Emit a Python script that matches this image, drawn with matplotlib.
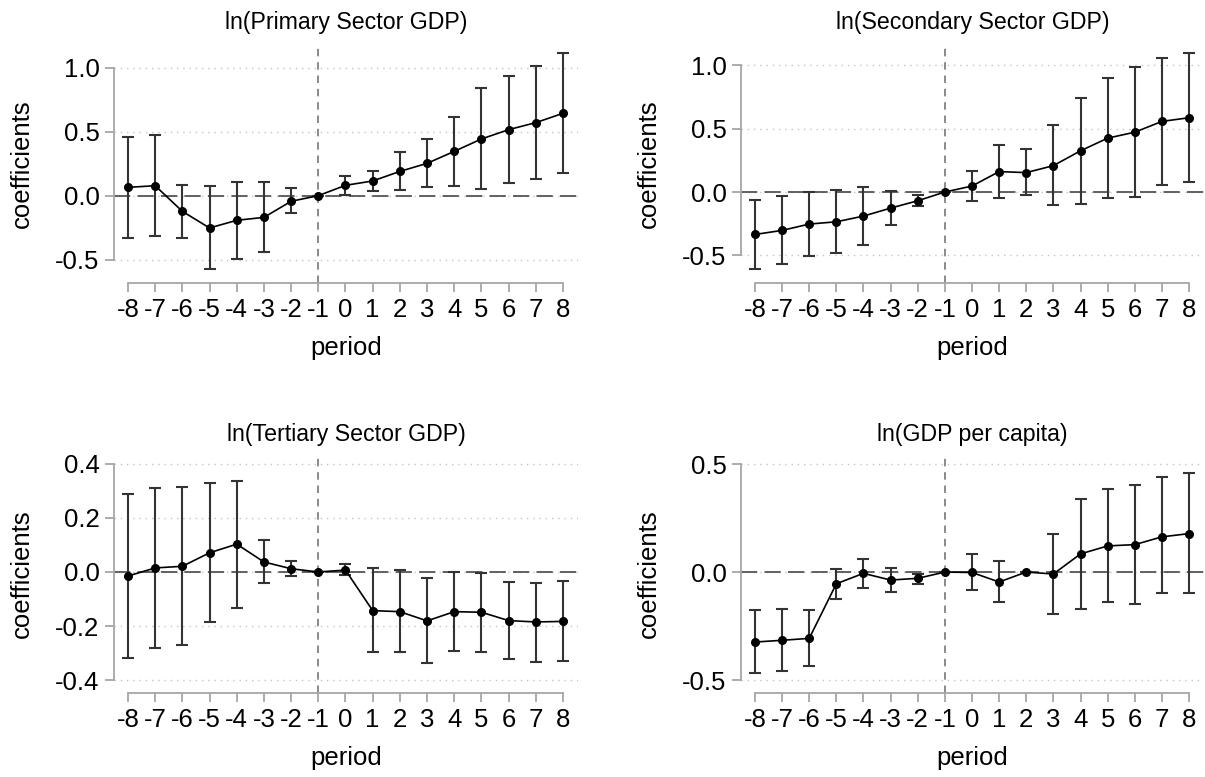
import matplotlib
matplotlib.use("Agg")
import matplotlib.pyplot as plt
import numpy as np

plt.rcParams['font.family'] = ['Liberation Sans', 'DejaVu Sans']
plt.rcParams['axes.unicode_minus'] = False

periods = [-8, -7, -6, -5, -4, -3, -2, -1, 0, 1, 2, 3, 4, 5, 6, 7, 8]

titles = ["ln(Primary Sector GDP)", "ln(Secondary Sector GDP)",
          "ln(Tertiary Sector GDP)", "ln(GDP per capita)"]

# Panel 1: ln(Primary Sector GDP)
coef_primary = [0.065, 0.078, -0.123, -0.253, -0.193, -0.170, -0.044, 0.0, 0.081, 0.115, 0.190, 0.253, 0.347, 0.444, 0.517, 0.572, 0.645]
upper_primary = [0.460, 0.475, 0.086, 0.073, 0.104, 0.110, 0.057, 0.0, 0.157, 0.196, 0.340, 0.444, 0.619, 0.840, 0.935, 1.013, 1.115]
lower_primary = [-0.330, -0.313, -0.330, -0.577, -0.493, -0.444, -0.138, 0.0, 0.005, 0.037, 0.044, 0.068, 0.078, 0.052, 0.097, 0.128, 0.178]

# Panel 2: ln(Secondary Sector GDP)
coef_secondary = [-0.335, -0.303, -0.253, -0.235, -0.190, -0.127, -0.069, 0.0, 0.047, 0.161, 0.153, 0.208, 0.325, 0.425, 0.472, 0.557, 0.586]
upper_secondary = [-0.061, -0.034, 0.000, 0.013, 0.042, 0.010, -0.024, 0.0, 0.166, 0.372, 0.338, 0.525, 0.744, 0.897, 0.987, 1.055, 1.095]
lower_secondary = [-0.610, -0.570, -0.507, -0.483, -0.417, -0.264, -0.111, 0.0, -0.069, -0.047, -0.026, -0.106, -0.095, -0.045, -0.040, 0.055, 0.077]

# Panel 3: ln(Tertiary Sector GDP)
coef_tertiary = [-0.015, 0.015, 0.021, 0.071, 0.103, 0.037, 0.012, 0.0, 0.007, -0.143, -0.147, -0.181, -0.147, -0.149, -0.180, -0.185, -0.183]
upper_tertiary = [0.287, 0.312, 0.316, 0.328, 0.338, 0.117, 0.041, 0.0, 0.030, 0.014, 0.007, -0.021, 0.000, -0.002, -0.036, -0.039, -0.035]
lower_tertiary = [-0.317, -0.282, -0.272, -0.185, -0.133, -0.042, -0.015, 0.0, -0.012, -0.298, -0.298, -0.338, -0.292, -0.296, -0.323, -0.332, -0.329]

# Panel 4: ln(GDP per capita)
coef_gdppc = [-0.324, -0.316, -0.307, -0.054, -0.006, -0.037, -0.029, 0.0, -0.002, -0.046, 0.000, -0.009, 0.084, 0.121, 0.127, 0.163, 0.178]
upper_gdppc = [-0.178, -0.173, -0.176, 0.015, 0.062, 0.020, -0.008, 0.0, 0.082, 0.050, 0.002, 0.175, 0.336, 0.384, 0.401, 0.440, 0.457]
lower_gdppc = [-0.469, -0.460, -0.437, -0.124, -0.076, -0.093, -0.056, 0.0, -0.084, -0.139, -0.002, -0.193, -0.169, -0.139, -0.146, -0.099, -0.099]

yticks_list = [[-0.5, 0.0, 0.5, 1.0], [-0.5, 0.0, 0.5, 1.0],
               [-0.4, -0.2, 0.0, 0.2, 0.4], [-0.5, 0.0, 0.5]]
ylims = [(-0.684, 1.180), (-0.718, 1.160), (-0.448, 0.433), (-0.560, 0.542)]

series = [(coef_primary, upper_primary, lower_primary),
          (coef_secondary, upper_secondary, lower_secondary),
          (coef_tertiary, upper_tertiary, lower_tertiary),
          (coef_gdppc, upper_gdppc, lower_gdppc)]

W, H = 1205, 777
fig = plt.figure(figsize=(W / 100, H / 100), dpi=100)

# axes boxes in pixels: (left, right, top, bottom)
boxes = [(114, 578, 45, 283), (741, 1204, 45, 283),
         (114, 578, 455, 693), (741, 1204, 455, 693)]

spine_col = '#a6a6a6'
for i, (box, title, (c, u, l), yt, yl) in enumerate(zip(boxes, titles, series, yticks_list, ylims)):
    x0, x1, t, b = box
    ax = fig.add_axes([x0 / W, 1 - b / H, (x1 - x0) / W, (b - t) / H])
    c = np.array(c); u = np.array(u); l = np.array(l)
    ax.set_xlim(-8.515, 8.552)
    ax.set_ylim(*yl)

    for v in yt:
        ax.axhline(v, color='#c4c4c4', lw=1.0, linestyle=(0, (1, 3.5)), zorder=0)
    ax.axhline(0, color='#555555', lw=1.3, linestyle=(0, (9, 4)), zorder=1)
    ax.axvline(-1, color='#777777', lw=1.2, linestyle=(0, (4.5, 3.5)), zorder=1)

    ax.errorbar(periods, c, yerr=[c - l, u - c], fmt='none', ecolor='#333333',
                elinewidth=1.5, capsize=4, capthick=1.5, zorder=2)
    ax.plot(periods, c, color='black', lw=1.2, marker='o', markersize=5.5, zorder=3)

    ax.set_yticks(yt)
    ax.set_yticklabels([f"{v:.1f}" for v in yt])
    ax.set_xticks(periods)
    ax.set_xticklabels([str(p) for p in periods])

    for s in ['top', 'right']:
        ax.spines[s].set_visible(False)
    ax.spines['left'].set_bounds(min(yt), max(yt))
    ax.spines['bottom'].set_bounds(-8, 8)
    for s in ['left', 'bottom']:
        ax.spines[s].set_color(spine_col)
        ax.spines[s].set_linewidth(1.3)
    ax.tick_params(axis='both', colors=spine_col, length=6.5, width=1.3,
                   labelcolor='black', labelsize=18.5)
    ax.tick_params(axis='y', pad=4)
    ax.tick_params(axis='x', pad=4)

    ax.set_ylabel('coefficients', fontsize=18.5)
    ax.yaxis.set_label_coords(-0.172, 0.5)
    ax.set_xlabel('period', fontsize=18.5)
    ax.xaxis.set_label_coords(0.5, -53 / (b - t))
    ax.text(0.5, 1 + (t - (22 if i < 2 else 435)) / (b - t), title, transform=ax.transAxes,
            ha='center', va='center', fontsize=16.7)

fig.savefig('out.png', dpi=100)
